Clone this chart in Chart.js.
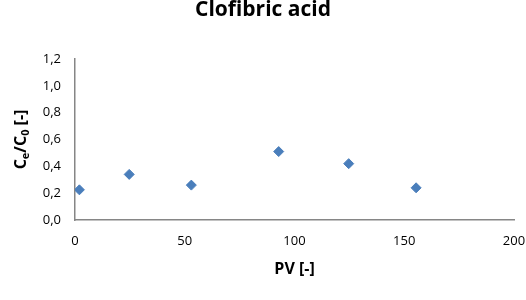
<!DOCTYPE html>
<html>
<head>
<meta charset="utf-8">
<script src="https://cdn.jsdelivr.net/npm/chart.js@4"></script>
<style>
  html, body { margin: 0; padding: 0; background: #fff; }
  #wrap { width: 526px; height: 300px; }
</style>
</head>
<body>
<div id="wrap"><canvas id="grafico" width="526" height="300"></canvas></div>
<script>
// dados
const pvValues = [2, 24.7, 53, 92.8, 124.7, 155.4];
const ceC0Values = [0.225, 0.34, 0.26, 0.51, 0.42, 0.24];
const xTicks = [0, 50, 100, 150, 200];
const yTicks = [0, 0.2, 0.4, 0.6, 0.8, 1.0, 1.2];

const FONT = '"Open Sans", "Liberation Sans", sans-serif';

// título do eixo Y com subscritos
const yTitlePlugin = {
  id: 'yTitle',
  afterDraw(chart) {
    const ctx = chart.ctx;
    const area = chart.chartArea;
    const parts = [
      { t: 'C', sub: false },
      { t: 'e', sub: true },
      { t: '/C', sub: false },
      { t: '0', sub: true },
      { t: ' [-]', sub: false }
    ];
    const big = 'bold 16px ' + FONT;
    const small = 'bold 11px ' + FONT;
    let total = 0;
    parts.forEach(p => {
      ctx.font = p.sub ? small : big;
      p.w = ctx.measureText(p.t).width;
      total += p.w;
    });
    ctx.save();
    ctx.translate(21, (area.top + area.bottom) / 2);
    ctx.rotate(-Math.PI / 2);
    ctx.fillStyle = '#000';
    ctx.textBaseline = 'middle';
    ctx.textAlign = 'left';
    let x = -total / 2;
    parts.forEach(p => {
      ctx.font = p.sub ? small : big;
      ctx.fillText(p.t, x, p.sub ? 5 : 0);
      x += p.w;
    });
    ctx.restore();
  }
};

const ctx = document.getElementById('grafico').getContext('2d');
new Chart(ctx, {
  type: 'scatter',
  data: {
    datasets: [{
      label: 'Clofibric acid',
      data: pvValues.map((v, i) => ({ x: v, y: ceC0Values[i] })),
      backgroundColor: '#4A7EBB',
      borderColor: '#4A7EBB',
      pointStyle: 'rectRot',
      pointRadius: 5,
      pointHoverRadius: 5
    }]
  },
  options: {
    responsive: false,
    animation: false,
    layout: { padding: { left: 0, right: 0, top: 0, bottom: 0 } },
    plugins: {
      legend: { display: false },
      tooltip: { enabled: false },
      title: {
        display: true,
        text: 'Clofibric acid',
        color: '#000',
        font: { family: FONT, size: 21, weight: 'bold', lineHeight: 1.0 },
        padding: { top: 0, bottom: 38 }
      }
    },
    scales: {
      x: {
        type: 'linear',
        min: xTicks[0],
        max: xTicks[xTicks.length - 1],
        afterBuildTicks: s => { s.ticks = xTicks.map(v => ({ value: v })); },
        afterFit: s => { s.height = 80; s.paddingRight = 12; s.paddingLeft = 0; },
        grid: { display: false, drawTicks: false },
        border: { display: true, color: '#868686', width: 1.5 },
        ticks: {
          color: '#000',
          padding: 13,
          font: { family: FONT, size: 13 }
        },
        title: {
          display: true,
          text: 'PV [-]',
          color: '#000',
          font: { family: FONT, size: 16, weight: 'bold' },
          padding: { top: 0, bottom: 21 }
        }
      },
      y: {
        type: 'linear',
        min: yTicks[0],
        max: yTicks[yTicks.length - 1],
        afterBuildTicks: s => { s.ticks = yTicks.map(v => ({ value: v })); },
        afterFit: s => { s.width = 75; },
        grid: { display: false, drawTicks: false },
        border: { display: true, color: '#868686', width: 1.5 },
        ticks: {
          color: '#000',
          padding: 14,
          font: { family: FONT, size: 13 },
          callback: v => v.toFixed(1).replace('.', ',')
        }
      }
    }
  },
  plugins: [yTitlePlugin]
});
</script>
</body>
</html>
